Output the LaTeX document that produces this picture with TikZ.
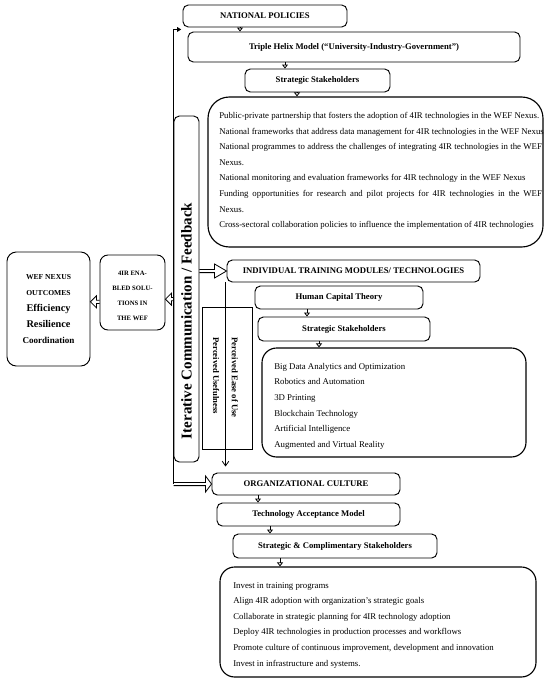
\documentclass[tikz,border=0pt]{standalone}
\usepackage{fontspec}
\setmainfont{Liberation Serif}
\usetikzlibrary{arrows.meta,fit,calc}
\begin{document}
\begin{tikzpicture}[x=0.75pt,y=-0.75pt,
  box/.style={draw, line width=0.7pt, rounded corners=4pt, inner sep=0pt},
  hd/.style={font=\fontsize{6.5}{7.5}\selectfont\bfseries, inner sep=0pt},
  hb/.style={box, label={[hd]center:{#1}}},
  lst/.style={draw, line width=0.85pt, rounded corners=#1, inner sep=0pt},
  ltxt/.style={anchor=north west, inner sep=0pt, align=left, font=\fontsize{6.6}{11.7}\selectfont},
  sarr/.style={line width=0.6pt, -{Triangle[open,length=3pt,width=4.5pt]}},
  blk/.style 2 args={line width=0.6pt, to path={let \p1=(\tikztostart), \p2=(\tikztotarget), \n1={sign(\x2-\x1)} in
    (\x1,{\y1+1.2pt}) -- ({\x2-(\n1)*#1},{\y1+1.2pt}) -- ({\x2-(\n1)*#1},{\y1+#2}) -- (\x2,\y1)
    -- ({\x2-(\n1)*#1},{\y1-#2}) -- ({\x2-(\n1)*#1},{\y1-1.2pt}) -- (\x1,{\y1-1.2pt})}},
]
\useasboundingbox (0,0) rectangle (550,682);

% national policies branch
\node[hb={NATIONAL POLICIES}, fit={(183,5) (347,27)}] (np) {};
\node[hb={Triple Helix Model (“University-Industry-Government”)}, fit={(188,32) (520,62)}] (th) {};
\node[hb={Strategic Stakeholders}, fit={(245,69) (390,92)}] (ss1) {};
\node[lst=16pt, fit={(208,97) (543,247)}] (l1) {};
\node[ltxt] (t1) at (219,112) {Public-private partnership that fosters the adoption of 4IR technologies in the WEF Nexus.\\
National frameworks that address data management for 4IR technologies in the WEF Nexus\\
\makebox[242pt][s]{National programmes to address the challenges of integrating 4IR technologies in the WEF}\\
Nexus.\\
National monitoring and evaluation frameworks for 4IR technology in the WEF Nexus\\
\makebox[242pt][s]{Funding opportunities for research and pilot projects for 4IR technologies in the WEF}\\
Nexus.\\
Cross-sectoral collaboration policies to influence the implementation of 4IR technologies};

% iterative feedback
\node[box, fit={(174,116) (199,462)}] (iter) {};
\node[rotate=90, inner sep=0pt, font=\fontsize{11.3}{13}\selectfont\bfseries] (itxt) at (186.5,321) {Iterative Communication / Feedback};

% individual branch
\node[draw, line width=0.7pt, inner sep=0pt, fit={(202,307) (252,449)}] (pb) {};
\node[rotate=-90, anchor=west, inner sep=0pt, font=\fontsize{6.5}{7.5}\selectfont\bfseries] (pu) at (216,337) {Perceived Usefulness};
\node[rotate=-90, anchor=west, inner sep=0pt, font=\fontsize{6.5}{7.5}\selectfont\bfseries] (pe) at (235,337) {Perceived Ease of Use};
\node[hb={INDIVIDUAL TRAINING MODULES/ TECHNOLOGIES}, fit={(227,260) (480,282)}] (ind) {};
\node[hb={Human Capital Theory}, fit={(255,286) (423,309)}] (hct) {};
\node[hb={Strategic Stakeholders}, fit={(258,317) (430,341)}] (ss2) {};
\node[lst=11pt, fit={(262,348) (526,457)}] (l2) {};
\node[ltxt] (t2) at (274,363) {Big Data Analytics and Optimization\\
Robotics and Automation\\
3D Printing\\
Blockchain Technology\\
Artificial Intelligence\\
Augmented and Virtual Reality};

% organizational branch
\node[hb={ORGANIZATIONAL CULTURE}, fit={(212,473) (400,495)}] (org) {};
\node[hb={Technology Acceptance Model}, fit={(217,503) (400,526)}] (tam) {};
\node[hb={Strategic \& Complimentary Stakeholders}, fit={(233,534) (437,558)}] (sc) {};
\node[lst=11pt, fit={(220,567) (536,677)}] (l3) {};
\node[ltxt] (t3) at (233,582) {Invest in training programs\\
Align 4IR adoption with organization’s strategic goals\\
Collaborate in strategic planning for 4IR technology adoption\\
Deploy 4IR technologies in production processes and workflows\\
Promote culture of continuous improvement, development and innovation\\
Invest in infrastructure and systems.};

% left boxes
\node[box, rounded corners=6pt, fit={(100,255) (165,330)}] (s4) {};
\node[align=center, inner sep=0pt, anchor=north, font=\fontsize{5}{11.25}\selectfont\bfseries] (s4t) at (132.5,271) {4IR ENA-\\BLED SOLU-\\TIONS IN\\THE WEF};
\node[box, rounded corners=7pt, fit={(7,252) (90,366)}] (wef) {};
\node[align=center, inner sep=0pt, anchor=north, font=\bfseries] (weft) at (48.5,274.5) {\fontsize{5.7}{11.8}\selectfont WEF NEXUS\\
\fontsize{5.7}{11.8}\selectfont OUTCOMES\\
\fontsize{7.7}{11.8}\selectfont Efficiency\\
\fontsize{7.7}{11.8}\selectfont Resilience\\
\fontsize{6.8}{11.8}\selectfont Coordination};

% small stacked arrows
\draw[sarr] (np.south -| 240,0) -- (th.north -| 240,0);
\draw[sarr] (th.south -| 285,0) -- (ss1.north -| 285,0);
\draw[sarr] (ss1.south -| 297,0) -- (l1.north -| 297,0);
\draw[sarr] (hct.south -| 307,0) -- (ss2.north -| 307,0);
\draw[sarr] (ss2.south -| 319,0) -- (l2.north -| 319,0);
\draw[sarr] (org.south -| 258,0) -- (tam.north -| 258,0);
\draw[sarr] (tam.south -| 270,0) -- (sc.north -| 270,0);
\draw[sarr] (sc.south -| 280,0) -- (l3.north -| 280,0);

% feedback loop line
\coordinate (npin) at ([xshift=-1pt,yshift=-1.5pt]np.south west);
\draw[line width=0.6pt, -{Triangle[length=3pt,width=3.5pt]}] (iter.west |- org.west) -- (iter.west |- npin) -- (npin);

% block arrows
\draw[blk={9pt}{5.25pt}] (iter.east |- ind.west) to (ind.west);
\draw[blk={4.5pt}{6pt}] (iter.west |- org.west) to (org.west);
\coordinate (a4) at ([yshift=-5pt]s4.east);
\draw[blk={4.5pt}{4.5pt}] (iter.west |- a4) to (a4);
\coordinate (a5) at ([yshift=-7pt]s4.west);
\draw[blk={4.5pt}{4.5pt}] (a5) to (wef.east |- a5);

% perceived arrow
\coordinate (pa) at ([xshift=-0.75pt]ind.south west);
\coordinate (pend) at ([yshift=4.5pt]org.north west);
\draw[line width=0.6pt, -{Straight Barb[length=3.5pt,width=5pt]}] (pa) -- (pa |- pend);
\end{tikzpicture}
\end{document}
